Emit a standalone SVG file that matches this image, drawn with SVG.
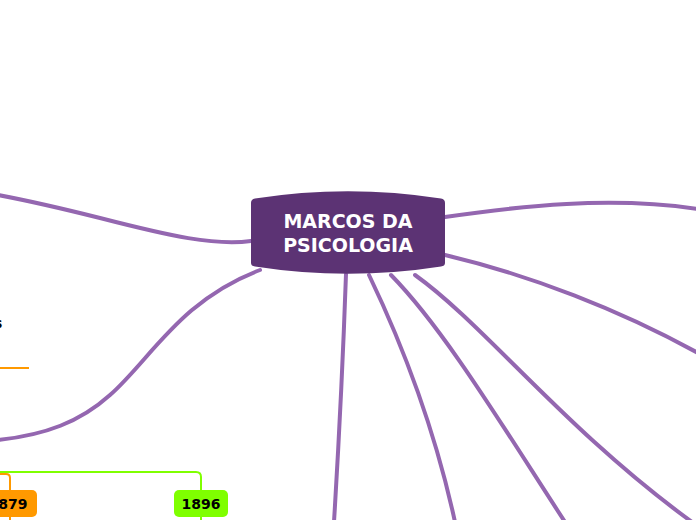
<svg xmlns="http://www.w3.org/2000/svg" width="696" height="520" viewBox="0 0 696 520">
<style>
.c{fill:none;stroke:#9467B0;stroke-width:4;stroke-linecap:round}
.t{font-family:"DejaVu Sans",Verdana,sans-serif;font-weight:bold}
</style>
<rect width="696" height="520" fill="#ffffff"/>
<g id="connectors">
<path class="c" d="M251,241 C215,246 170,236 100,218 C60,208 30,201 -2,195"/>
<path class="c" d="M260,270 C180,300 150,360 110,395 C80,422 45,435 -2,440"/>
<path class="c" d="M445,217 C520,206 610,196 698,209"/>
<path class="c" d="M445,255 C530,275 620,310 698,353"/>
<path class="c" d="M346,274 C343,360 339,440 334,522"/>
<path class="c" d="M369,275 C405,350 435,430 455,522"/>
<path class="c" d="M391,275 C445,330 505,430 565,522"/>
<path class="c" d="M415,275 C485,325 565,430 692,522"/>
<path fill="none" stroke="#FF9900" stroke-width="2" d="M-2,368 L29,368"/>
<path fill="none" stroke="#7FFF00" stroke-width="2" d="M-2,472 L196,472 Q201,472 201,477 L201,522"/>
<path fill="none" stroke="#FF9900" stroke-width="2" d="M-2,474 L6,474 Q10,474 10,478 L10,522"/>
</g>
<g id="root">
<path d="M251,203 Q251,199 255,198.5 Q348,184 441,198.5 Q445,199 445,203 L445,263 Q445,266 441,266.5 Q348,281 255,266.5 Q251,266 251,263 Z" fill="#5C3374"/>
<text class="t" x="348" y="228" text-anchor="middle" font-size="19" fill="#ffffff">MARCOS DA</text>
<text class="t" x="348" y="252" text-anchor="middle" font-size="19" fill="#ffffff">PSICOLOGIA</text>
</g>
<g id="node-s">
<text class="t" x="-6" y="328" font-size="14" fill="#000000">s</text>
</g>
<g id="node-1879">
<rect x="-20" y="490" width="57" height="27" rx="5" fill="#FF9900"/>
<text class="t" x="8" y="509" text-anchor="middle" font-size="14" fill="#000000">1879</text>
</g>
<g id="node-1896">
<rect x="174" y="490" width="54" height="27" rx="5" fill="#7FFF00"/>
<text class="t" x="201" y="509" text-anchor="middle" font-size="14" fill="#000000">1896</text>
</g>
</svg>
